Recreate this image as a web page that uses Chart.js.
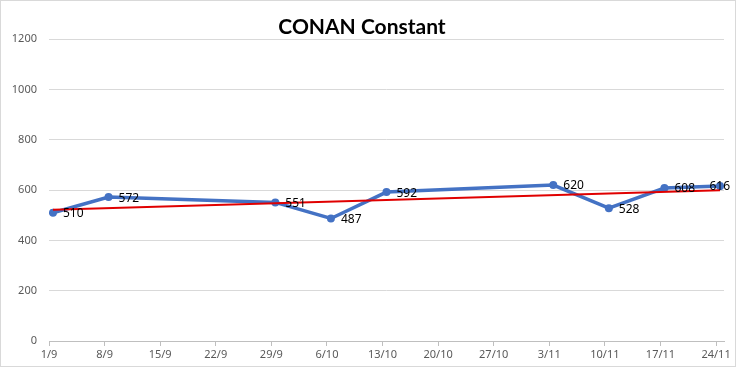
<!DOCTYPE html>
<html>
<head>
<meta charset="utf-8">
<script src="https://cdn.jsdelivr.net/npm/chart.js@4"></script>
<style>
  body { margin: 0; background: #fff; }
  #wrap { width: 736px; height: 367px; }
</style>
</head>
<body>
<div id="wrap"><canvas id="chart" width="736" height="367"></canvas></div>
<script>
// Tick labels (weekly) on the date axis
const tickLabels = ['1/9', '8/9', '15/9', '22/9', '29/9', '6/10', '13/10', '20/10', '27/10', '3/11', '10/11', '17/11', '24/11'];

// Measured points
const pointDates = ['1/9', '8/9', '29/9', '6/10', '13/10', '3/11', '10/11', '17/11', '24/11'];
const values = [510, 572, 551, 487, 592, 620, 528, 608, 616];

// Linear trend line at both ends
const trendDates = ['1/9', '24/11'];
const trendValues = [522, 599];

const yTicks = [0, 200, 400, 600, 800, 1000, 1200];

// days since 1/9
function dayIndex(label) {
    const [d, m] = label.split('/').map(Number);
    return Math.round((Date.UTC(2019, m - 1, d) - Date.UTC(2019, 8, 1)) / 86400000);
}

// Excel date axis puts each point in the middle of its day
const toPoints = (dates, vals) => dates.map((d, i) => ({ x: dayIndex(d) + 0.5, y: vals[i] }));

const lastDay = dayIndex(tickLabels[tickLabels.length - 1]) + 1;
const tickFont = { family: 'Noto Sans', size: 11 };

const borderPlugin = {
    id: 'outerBorder',
    beforeDraw(chart) {
        const ctx = chart.ctx;
        ctx.save();
        ctx.fillStyle = '#fff';
        ctx.fillRect(0, 0, chart.width, chart.height);
        ctx.strokeStyle = '#d9d9d9';
        ctx.lineWidth = 1;
        ctx.strokeRect(0.5, 0.5, chart.width - 1, chart.height - 1);
        ctx.restore();
    }
};

const labelPlugin = {
    id: 'pointLabels',
    afterDatasetsDraw(chart) {
        const ctx = chart.ctx;
        const meta = chart.getDatasetMeta(0);
        ctx.save();
        ctx.fillStyle = '#000';
        ctx.font = '12px "Noto Sans"';
        ctx.textAlign = 'left';
        ctx.textBaseline = 'middle';
        meta.data.forEach((pt, i) => {
            const text = String(values[i]);
            const w = ctx.measureText(text).width;
            // keep the label inside the chart like Excel does
            const x = Math.min(pt.x + 10, chart.width - 6 - w);
            ctx.fillText(text, x, pt.y + 1);
        });
        ctx.restore();
    }
};

const ctx = document.getElementById('chart').getContext('2d');
new Chart(ctx, {
    type: 'line',
    data: {
        datasets: [
            {
                label: 'CONAN Constant',
                data: toPoints(pointDates, values),
                borderColor: '#4472C4',
                backgroundColor: '#4472C4',
                borderWidth: 3.5,
                pointRadius: 4,
                pointBorderWidth: 0,
                tension: 0,
                order: 1
            },
            {
                label: 'Trend',
                data: toPoints(trendDates, trendValues),
                borderColor: '#e00000',
                borderWidth: 2,
                pointRadius: 0,
                tension: 0,
                order: 0
            }
        ]
    },
    options: {
        responsive: false,
        animation: false,
        layout: { padding: { left: 0, right: 12, top: 0, bottom: 0 } },
        plugins: {
            legend: { display: false },
            tooltip: { enabled: false },
            title: {
                display: true,
                text: 'CONAN Constant',
                color: '#000',
                font: { family: 'Lato', size: 21, weight: 'bold', lineHeight: 1.15 },
                padding: { top: 15, bottom: 0 }
            }
        },
        scales: {
            x: {
                type: 'linear',
                min: 0,
                max: lastDay,
                afterBuildTicks(scale) {
                    scale.ticks = tickLabels.map(l => ({ value: dayIndex(l) }));
                },
                afterFit(scale) { scale.height = 26; },
                ticks: {
                    autoSkip: false,
                    maxRotation: 0,
                    color: '#595959',
                    font: tickFont,
                    padding: 2,
                    callback: v => tickLabels.find(l => dayIndex(l) === v) || ''
                },
                grid: { drawOnChartArea: false, drawTicks: true, tickLength: 5, color: '#bfbfbf' },
                border: { display: true, color: '#bfbfbf' }
            },
            y: {
                min: 0,
                max: 1200,
                afterBuildTicks(scale) {
                    scale.ticks = yTicks.map(v => ({ value: v }));
                },
                afterFit(scale) { scale.width = 49; },
                ticks: { color: '#595959', font: tickFont, padding: 12, callback: v => String(v) },
                grid: { color: '#d9d9d9', drawTicks: false },
                border: { display: false }
            }
        }
    },
    plugins: [borderPlugin, labelPlugin]
});
</script>
</body>
</html>
